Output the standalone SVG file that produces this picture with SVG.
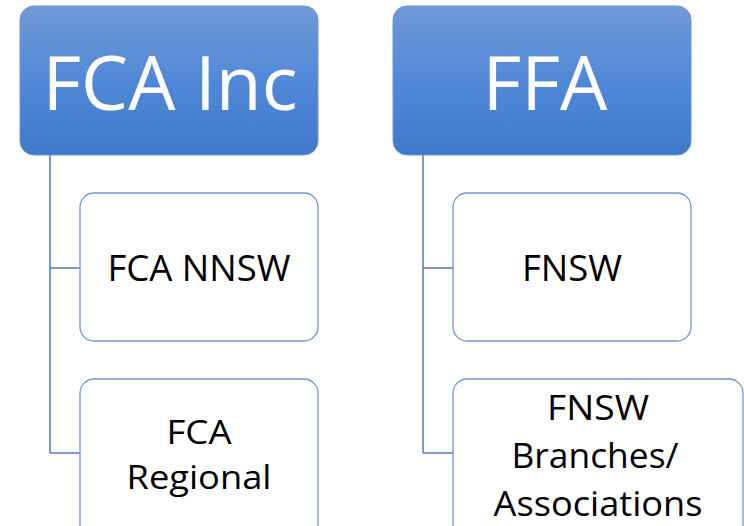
<svg xmlns="http://www.w3.org/2000/svg" width="744" height="526" viewBox="0 0 744 526">
<style>
.top{fill:url(#g);stroke:#6c94d2;stroke-width:1}
.child{fill:#ffffff;stroke:#6f96d6;stroke-width:1.3}
.conn{fill:none;stroke:#5079bd;stroke-width:1.5}
.tt{font-family:"Open Sans","Noto Sans",sans-serif;fill:#ffffff;font-size:75px;text-anchor:middle}
.ct{font-family:"Open Sans","Noto Sans",sans-serif;fill:#000000;font-size:36px;text-anchor:middle}
.cs{font-size:33px}
.cm{font-size:35px}
</style>
<defs>
<linearGradient id="g" x1="0" y1="0" x2="0" y2="1">
<stop offset="0" stop-color="#7199d6"/>
<stop offset="0.5" stop-color="#5189d8"/>
<stop offset="1" stop-color="#3f79c9"/>
</linearGradient>
</defs>
<rect width="744" height="526" fill="#ffffff"/>
<g id="connectors">
<path class="conn" d="M50,155 V453 M50,268 H80 M50,453 H80"/>
<path class="conn" d="M423,155 V453 M423,268 H453 M423,453 H453"/>
</g>
<g id="fca-inc">
<rect class="top" x="20" y="6" width="298" height="149" rx="14"/>
<text class="tt" x="170" y="110" textLength="255" lengthAdjust="spacingAndGlyphs">FCA Inc</text>
</g>
<g id="ffa">
<rect class="top" x="393" y="6" width="298" height="149" rx="14"/>
<text class="tt" x="545" y="110" textLength="125" lengthAdjust="spacingAndGlyphs">FFA</text>
</g>
<g id="fca-nnsw">
<rect class="child" x="80" y="193" width="238" height="148" rx="14"/>
<text class="ct" x="199" y="281" textLength="183" lengthAdjust="spacingAndGlyphs">FCA NNSW</text>
</g>
<g id="fca-regional">
<rect class="child" x="80" y="379" width="238" height="160" rx="14"/>
<text class="ct cs" x="199" y="444" textLength="65" lengthAdjust="spacingAndGlyphs">FCA</text>
<text class="ct cs" x="199" y="489" textLength="145" lengthAdjust="spacingAndGlyphs">Regional</text>
</g>
<g id="fnsw">
<rect class="child" x="453" y="193" width="238" height="148" rx="14"/>
<text class="ct" x="572" y="281" textLength="100" lengthAdjust="spacingAndGlyphs">FNSW</text>
</g>
<g id="fnsw-branches">
<rect class="child" x="453" y="379" width="290" height="160" rx="14"/>
<text class="ct cm" x="598" y="420" textLength="102" lengthAdjust="spacingAndGlyphs">FNSW</text>
<text class="ct cm" x="595" y="468" textLength="167" lengthAdjust="spacingAndGlyphs">Branches/</text>
<text class="ct cm" x="598" y="516" textLength="209" lengthAdjust="spacingAndGlyphs">Associations</text>
</g>
</svg>
